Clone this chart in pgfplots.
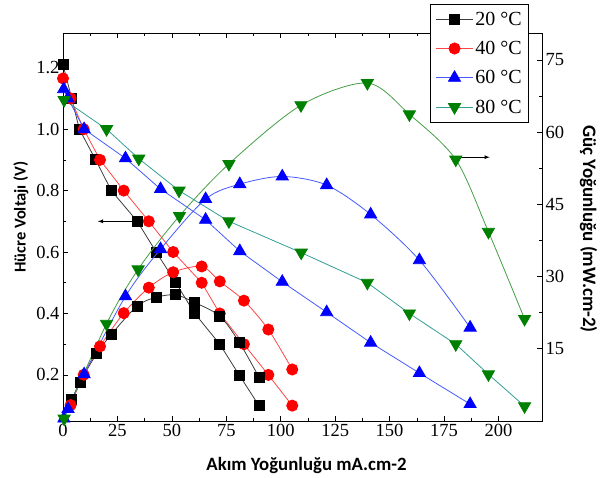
\documentclass[border=0pt]{standalone}
\usepackage{pgfplots}
\pgfplotsset{compat=1.18}
\usepackage{fontspec}
\setmainfont{Liberation Serif}
\newfontfamily\labfont{Carlito}

\definecolor{mkgreen}{RGB}{0,128,0}
\definecolor{lngreen}{RGB}{70,158,70}
\definecolor{lnteal}{RGB}{50,158,150}
\definecolor{lnblue}{RGB}{70,90,255}
\definecolor{lnred}{RGB}{255,70,70}
\definecolor{lnblack}{RGB}{60,60,60}

\pgfplotsset{
  common/.style={
    scale only axis, width=479pt, height=388pt,
    xmin=0, xmax=220, clip=false,
    tick align=inside,
    major tick length=5pt, minor tick length=3pt,
    every tick/.style={line width=0.6pt, black},
    axis line style={line width=0.8pt},
    tick label style={font=\fontsize{18.5}{21}\selectfont},
    /pgf/number format/assume math mode=true,
    label style={font=\labfont\bfseries},
  },
  vline/.style={line width=0.8pt},
  pline/.style={line width=0.8pt, smooth, tension=0.5},
  s20/.style={color=lnblack, mark=square*, mark size=5pt, mark options={fill=black, draw=black, solid}},
  s40/.style={color=lnred, mark=*, mark size=5.6pt, mark options={fill=red, draw=red, solid}},
  s60/.style={color=lnblue, mark=triangle*, mark size=7pt, mark options={fill=blue, draw=blue, solid}},
  s80/.style={mark=triangle*, mark size=7pt, mark options={fill=mkgreen, draw=mkgreen, rotate=180, solid}},
}

\begin{document}
\begin{tikzpicture}
% Cell voltage (left axis)
\begin{axis}[common,
  ymin=0.05, ymax=1.313,
  xtick={0,25,50,75,100,125,150,175,200}, minor x tick num=1,
  ytick={0.2,0.4,0.6,0.8,1.0,1.2}, minor y tick num=1,
  ytick pos=left, xtick pos=both,
  yticklabel style={/pgf/number format/.cd, fixed, fixed zerofill, precision=1},
  xlabel={Akım Yoğunluğu mA.cm-2},
  ylabel={Hücre Voltajı (V)},
  xlabel style={yshift=-13pt, xshift=4pt, font=\labfont\bfseries\fontsize{18.8}{21}\selectfont},
  ylabel style={yshift=1pt, xshift=10pt, font=\labfont\bfseries\fontsize{16.5}{19}\selectfont},
  legend cell align=left,
  legend style={at={(0.973,1.0747)}, anchor=north east, draw=black, line width=0.6pt,
    font=\fontsize{20}{22}\selectfont, inner xsep=5pt, inner ysep=5.5pt, row sep=10.5pt},
  legend image code/.code={\draw[mark repeat=2, mark phase=2, line width=0.8pt]
    plot coordinates {(0cm,0cm) (0.65cm,0cm) (1.3cm,0cm)};},
]
\coordinate (bl) at (rel axis cs:0,0);
\coordinate (tr) at (rel axis cs:1,1);

\addplot[vline, s20] coordinates {
  (0,1.21) (4,1.1) (7.5,1.0) (15,0.9) (22.2,0.8) (34.1,0.7) (42.8,0.6)
  (51.8,0.5) (60.5,0.4) (72,0.3) (80.9,0.2) (90,0.1)};
\addlegendentry{20 °C}
\addplot[vline, s40] coordinates {
  (0,1.165) (3.5,1.1) (9.5,1.0) (17,0.9) (27.9,0.8) (39.4,0.7) (50.6,0.6)
  (63.7,0.5) (72,0.4) (83.1,0.3) (94.3,0.2) (105.3,0.1)};
\addlegendentry{40 °C}
\addplot[vline, s60] coordinates {
  (0.3,1.13) (2.3,1.1) (9.7,1.0) (28.7,0.905) (44.8,0.805) (65.5,0.705)
  (81.2,0.603) (100.7,0.503) (121.1,0.404) (141.3,0.305) (163.7,0.206) (187,0.105)};
\addlegendentry{60 °C}
\addplot[vline, s80, color=lnteal] coordinates {
  (0.5,1.095) (20,1.0) (34.8,0.904) (53.3,0.8) (76.2,0.7) (109.4,0.598)
  (139.8,0.5) (159.1,0.4) (180.4,0.3) (195.4,0.202) (212,0.098)};
\addlegendentry{80 °C}

\draw[-latex, line width=0.8pt] (axis cs:33,0.7) -- (axis cs:16,0.7);
\end{axis}

% Power density (right axis)
\begin{axis}[common,
  ymin=0, ymax=80.6,
  hide x axis,
  axis y line*=right,
  ytick={15,30,45,60,75}, minor y tick num=1,
  ylabel={Güç Yoğunluğu (mW.cm-2)},
  ylabel style={rotate=180, yshift=9pt, xshift=2pt, font=\labfont\bfseries\fontsize{19}{22}\selectfont},
]
\addplot[pline, s20] coordinates {
  (4,4.4) (7.8,8.1) (15.5,14.0) (22.2,18.0) (34.1,23.9) (42.8,25.7)
  (51.8,26.2) (60.5,24.6) (72,21.8) (80.9,16.4) (90,9.1)};
\addplot[pline, s40] coordinates {
  (3.5,3.3) (9.5,9.6) (17,15.5) (27.9,22.4) (39.4,27.7) (50.6,30.9)
  (63.7,32.1) (72,29.0) (83.1,25.0) (94.3,19.0) (105.3,10.7)};
\addplot[pline, s60] coordinates {
  (0.4,0.5) (2.3,2.5) (9.7,9.7) (28.7,25.9) (44.8,35.7) (65.5,46.1)
  (81.2,49.2) (100.7,50.8) (121.1,49.0) (141.3,42.9) (163.7,33.4) (187,19.4)};
\addplot[pline, s80, color=lngreen] coordinates {
  (0.5,0.5) (20,20.2) (34.5,31.5) (53.5,42.6) (76.2,53.4) (109.3,65.6)
  (139.8,70.2) (159.1,63.7) (180.4,54.3) (195.4,39.3) (212,21.2)};

\draw[-latex, line width=0.8pt] (axis cs:181,54.8) -- (axis cs:196,54.8);
\end{axis}

\pgfresetboundingbox
\path[use as bounding box] ([shift={(-63pt,-57pt)}]bl) rectangle ([shift={(58pt,33pt)}]tr);
\end{tikzpicture}
\end{document}
